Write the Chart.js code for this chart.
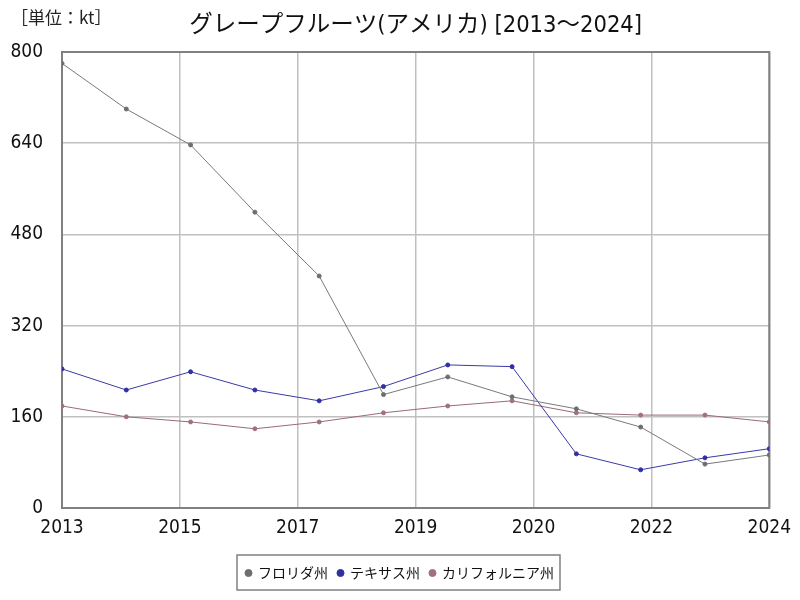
<!DOCTYPE html>
<html>
<head>
<meta charset="utf-8">
<script src="https://cdn.jsdelivr.net/npm/chart.js@4.4.1/dist/chart.umd.min.js"></script>
<style>
  html, body { margin: 0; padding: 0; background: #fff; }
  #wrap { width: 800px; height: 600px; }
</style>
</head>
<body>
<div id="wrap"><canvas id="chart" width="800" height="600"></canvas></div>
<script>
// グレープフルーツ（アメリカ）生産量, 単位 kt
const years = [2013, 2014, 2015, 2016, 2017, 2018, 2019, 2020, 2021, 2022, 2023, 2024];
const florida = [780, 700, 637, 519, 407, 199, 230, 195, 174, 142, 77, 93];
const texas = [244, 207, 239, 207, 188, 213, 251, 248, 95, 67, 88, 104];
const california = [179, 160, 151, 139, 151, 167, 179, 188, 167, 163, 163, 151];

const xTickLabels = ['2013', '2015', '2017', '2019', '2020', '2022', '2024'];
const yTicks = [0, 160, 320, 480, 640, 800];

const NUM_FONT = "'DejaVu Sans Condensed', 'Noto Sans CJK JP', sans-serif";
const JP_FONT = "'DejaVu Sans Condensed', 'Noto Sans CJK JP', sans-serif";

const toPoints = (vals) => vals.map((v, i) => ({ x: years[i], y: v }));

// 枠線と単位ラベル
const framePlugin = {
  id: 'frame',
  beforeDatasetsDraw(chart) {
    const { ctx, chartArea: a } = chart;
    ctx.save();
    ctx.strokeStyle = '#808080';
    ctx.lineWidth = 2;
    ctx.strokeRect(a.left, a.top, a.right - a.left, a.bottom - a.top);
    ctx.restore();
  },
  afterDraw(chart) {
    const ctx = chart.ctx;
    ctx.save();
    ctx.fillStyle = '#222';
    ctx.font = "17px 'Noto Sans CJK JP', sans-serif";
    ctx.textBaseline = 'middle';
    ctx.textAlign = 'left';
    ctx.fillText('［単位：kt］', 11, 18);

    // 凡例の枠
    const boxes = chart.legend && chart.legend.legendHitBoxes;
    if (boxes && boxes.length) {
      const first = boxes[0], last = boxes[boxes.length - 1];
      const l = first.left - 9, r = last.left + last.width + 6;
      const t = first.top - 11, b = first.top + first.height + 10;
      ctx.strokeStyle = '#808080';
      ctx.lineWidth = 1.5;
      ctx.strokeRect(l, t, r - l, b - t);
    }
    ctx.restore();
  }
};

const line = (label, data, color, pointColor) => ({
  label,
  data: toPoints(data),
  borderColor: color,
  backgroundColor: pointColor,
  pointBackgroundColor: pointColor,
  pointBorderColor: pointColor,
  borderWidth: 1,
  pointRadius: 2,
  pointHoverRadius: 2,
  tension: 0
});

new Chart(document.getElementById('chart'), {
  type: 'line',
  data: {
    datasets: [
      line('フロリダ州', florida, '#7a7a7a', '#6e6e6e'),
      line('テキサス州', texas, '#3a3aa8', '#3030a0'),
      line('カリフォルニア州', california, '#9a6a78', '#a07080')
    ]
  },
  options: {
    responsive: false,
    animation: false,
    layout: { padding: { left: 0, right: 0, top: 0, bottom: 10 } },
    plugins: {
      title: {
        display: true,
        fullSize: false,
        text: 'グレープフルーツ(アメリカ) [2013～2024]',
        color: '#111',
        font: { family: JP_FONT, size: 23.5, weight: 'normal', lineHeight: 1.2 },
        padding: { top: 12, bottom: 11.8 }
      },
      legend: {
        position: 'bottom',
        labels: {
          usePointStyle: true,
          pointStyle: 'circle',
          boxWidth: 5,
          boxHeight: 5,
          padding: 10,
          color: '#111',
          font: { family: "'Noto Sans CJK JP', sans-serif", size: 14 }
        }
      },
      tooltip: { enabled: false }
    },
    scales: {
      x: {
        type: 'linear',
        min: 2013,
        max: 2024,
        afterBuildTicks: (scale) => {
          scale.ticks = xTickLabels.map((_, i) => ({
            value: scale.min + (scale.max - scale.min) * i / (xTickLabels.length - 1)
          }));
        },
        afterFit: (scale) => { scale.height = 48; },
        ticks: {
          callback: (v, i) => xTickLabels[i],
          color: '#111',
          padding: 9,
          maxRotation: 0,
          autoSkip: false,
          font: { family: NUM_FONT, size: 19 }
        },
        grid: { color: '#c0c0c0', lineWidth: 1.5, drawTicks: false },
        border: { display: false }
      },
      y: {
        min: 0,
        max: 800,
        afterBuildTicks: (scale) => { scale.ticks = yTicks.map(v => ({ value: v })); },
        afterFit: (scale) => { scale.width = 62; },
        ticks: {
          color: '#111',
          padding: 19,
          font: { family: NUM_FONT, size: 19 }
        },
        grid: { color: '#c0c0c0', lineWidth: 1.5, drawTicks: false },
        border: { display: false }
      },
      yRight: {
        position: 'right',
        display: true,
        ticks: { display: false },
        grid: { display: false, drawTicks: false },
        border: { display: false },
        afterFit: (scale) => { scale.width = 24; }
      }
    }
  },
  plugins: [framePlugin]
});
</script>
</body>
</html>
